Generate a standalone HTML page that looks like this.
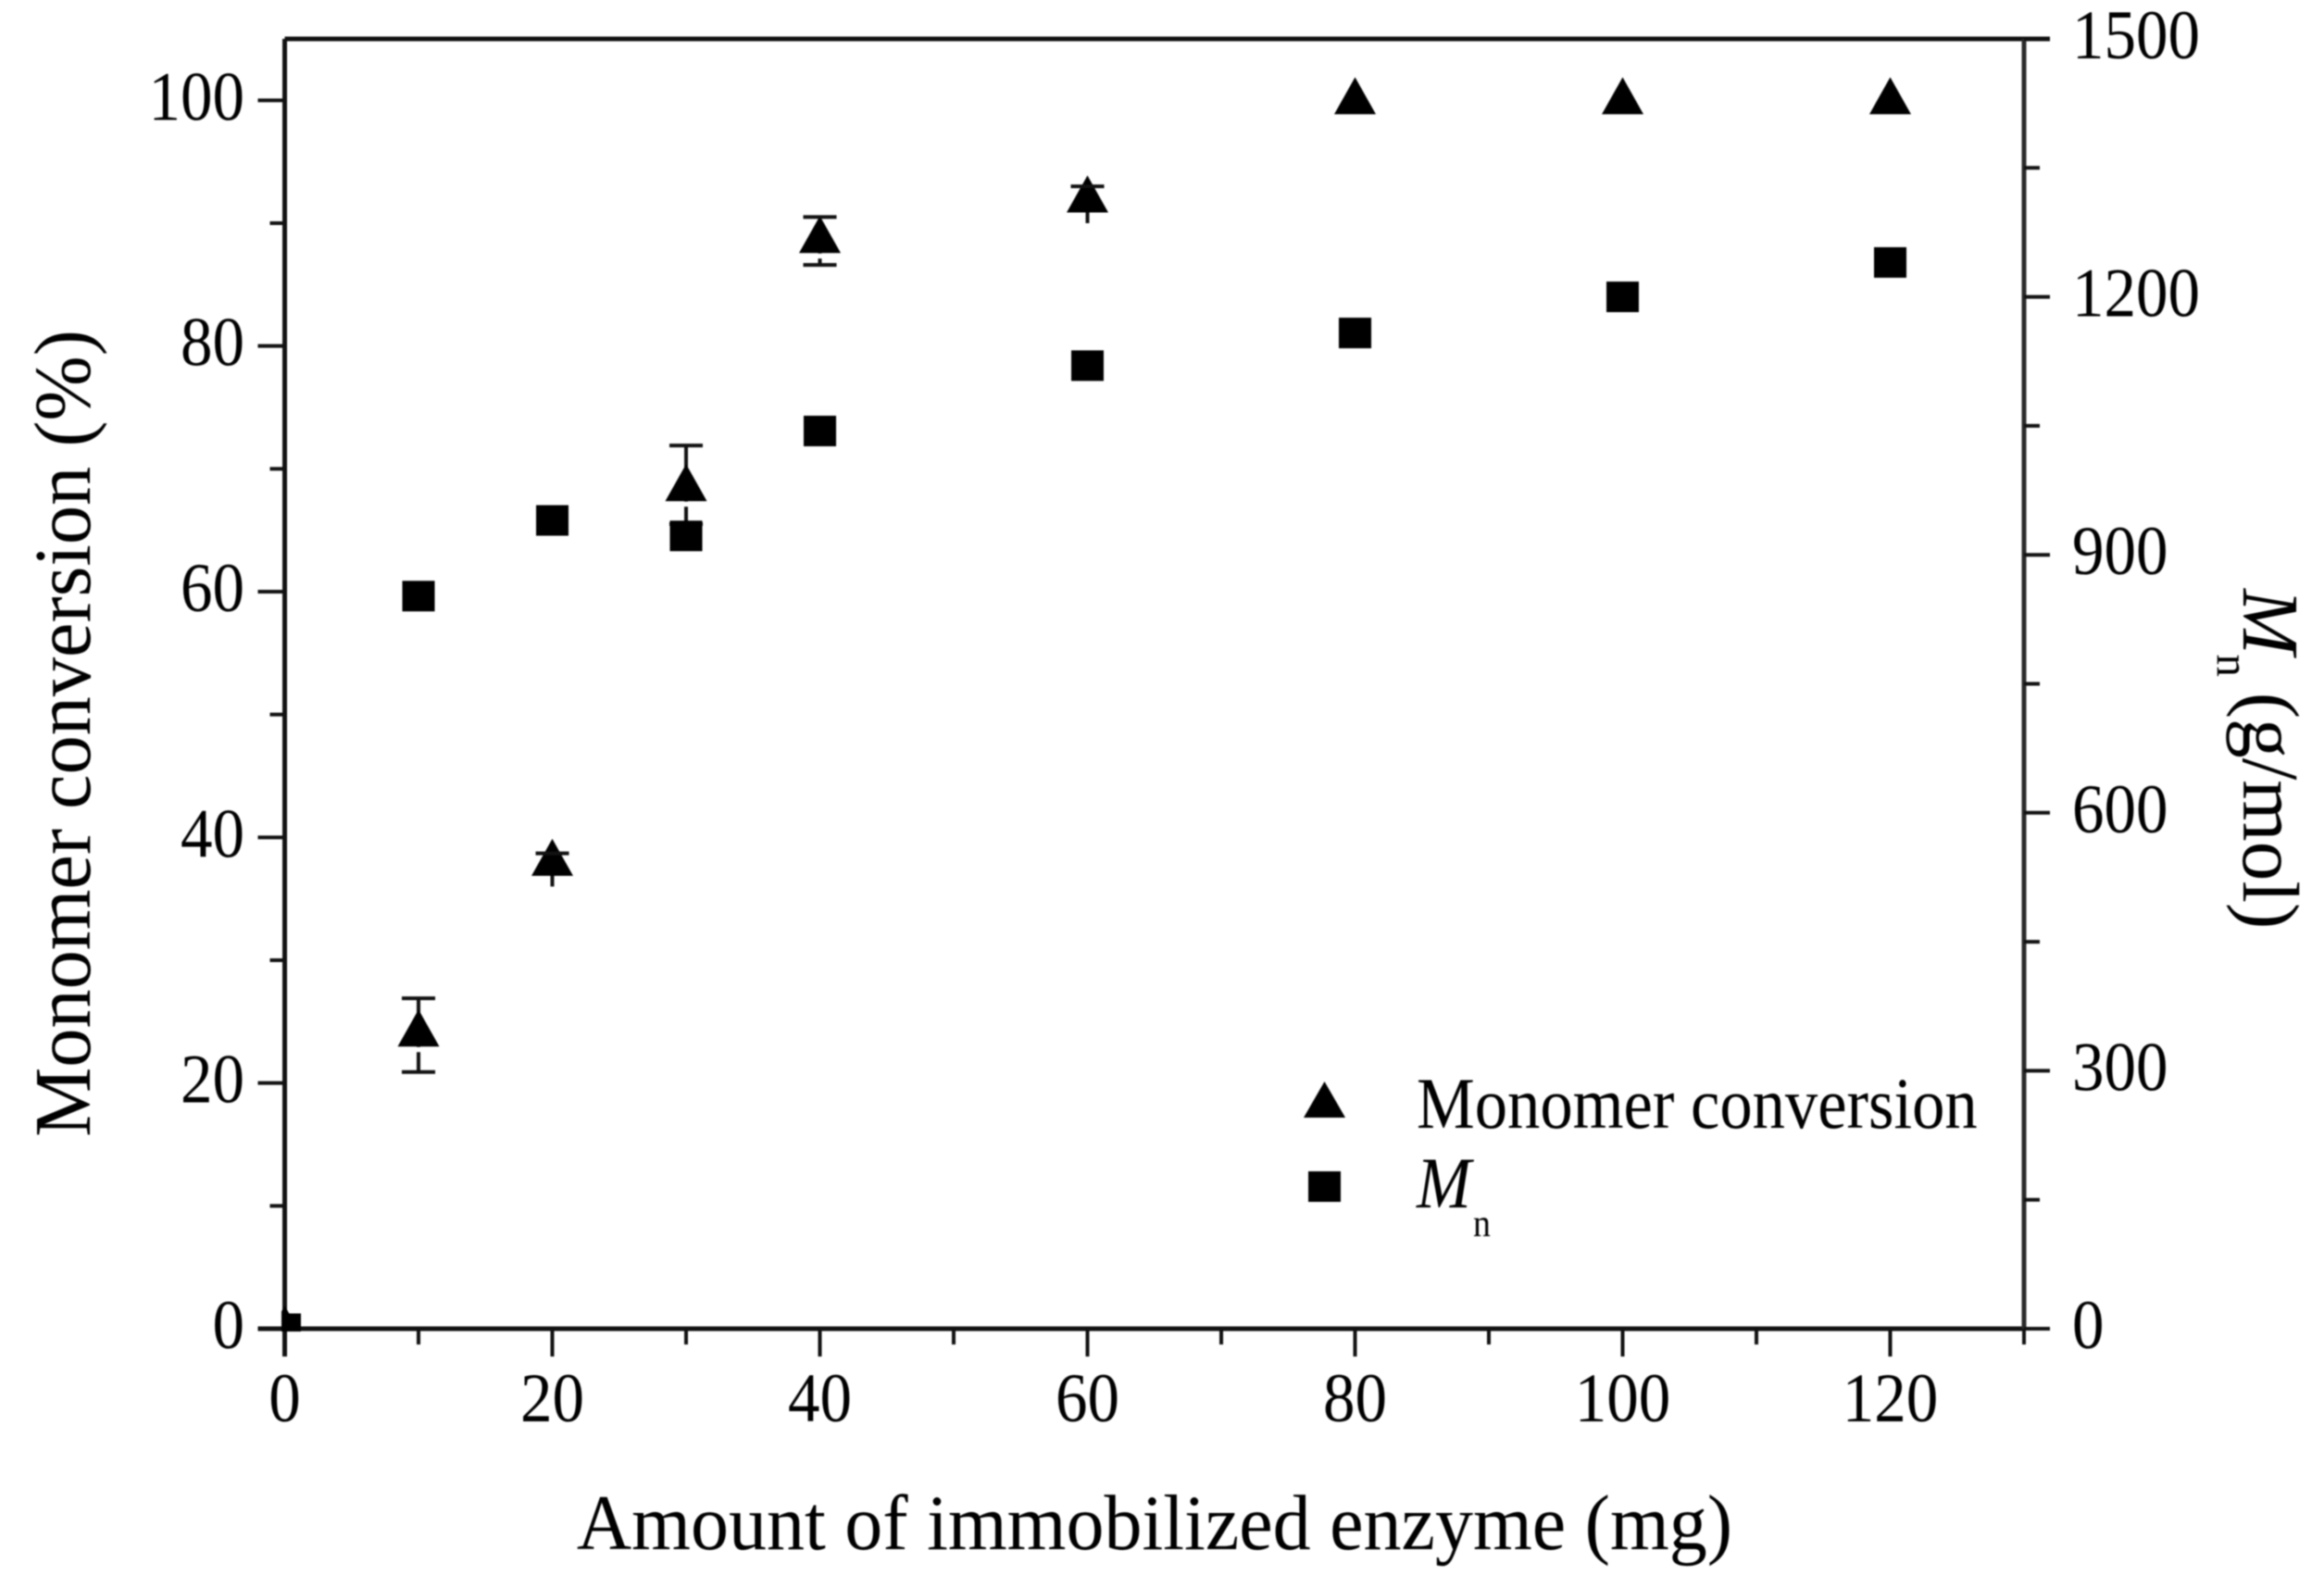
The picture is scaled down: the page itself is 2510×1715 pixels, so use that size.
<!DOCTYPE html>
<html lang="en">
<head>
<meta charset="utf-8">
<title>Monomer conversion and Mn vs amount of immobilized enzyme</title>
<style>
html,body{margin:0;padding:0;background:#fff;}
body{width:2510px;height:1715px;overflow:hidden;}
svg{display:block;filter:blur(0.8px);}
text{font-family:"Liberation Serif",serif;fill:#000;}
</style>
</head>
<body>
<svg id="chart" xmlns="http://www.w3.org/2000/svg" width="2510" height="1715" viewBox="0 0 2510 1715">
  <rect x="0" y="0" width="2510" height="1715" fill="#fff"/>
  <defs>
    <clipPath id="plot-clip"><rect x="304" y="30" width="1890" height="1408"/></clipPath>
  </defs>
  <text transform="translate(1247,1673) scale(.965,1)" font-size="85" text-anchor="middle">Amount of immobilized enzyme (mg)</text>
  <text transform="translate(97,792) rotate(-90) scale(.97,1)" font-size="87" text-anchor="middle">Monomer conversion (%)</text>
  <g transform="translate(2423,636) rotate(90) scale(.98,1)">
    <text x="0" y="0" font-size="87" font-style="italic">M</text>
    <text x="72" y="28" font-size="50">n</text>
    <text x="114" y="0" font-size="87">(g/mol)</text>
  </g>
  <g id="axes"></g>
  <g id="marks" clip-path="url(#plot-clip)"></g>
  <g>
    <g>
      <polygon points="1408,1207 1453,1207 1430.5,1168" fill="#000"/>
      <text transform="translate(1530,1218) scale(.905,1)" font-size="78">Monomer conversion</text>
    </g>
    <g>
      <rect x="1413" y="1265" width="35" height="33" fill="#000"/>
      <text transform="translate(1530,1304) scale(.905,1)" font-size="78" font-style="italic">M</text>
      <text transform="translate(1591,1335) scale(.9,1)" font-size="42">n</text>
    </g>
  </g>
</svg>
<script>
var amounts = [0, 10, 20, 30, 40, 60, 80, 100, 120];
var conversion = [0, 24.1, 38, 68.5, 88.7, 92, 100, 100, 100];
var conversionHigh = [0, 26.9, 38.7, 71.9, 90.5, 93, 100, 100, 100];
var conversionLow = [0, 20.9, 36, 65.5, 86.6, 90, 100, 100, 100];
var lowerCapVisible = [false, true, false, true, true, false, false, false, false];
var mn = [0, 852, 940, 922, 1044, 1120, 1158, 1200, 1240];
var xTickLabels = [0, 20, 40, 60, 80, 100, 120];
var xMinorTicks = [10, 30, 50, 70, 90, 110, 130];
var leftTickLabels = [0, 20, 40, 60, 80, 100];
var leftMinorTicks = [10, 30, 50, 70, 90];
var rightTickLabels = [0, 300, 600, 900, 1200, 1500];
var rightMinorTicks = [150, 450, 750, 1050, 1350];

var NS = 'http://www.w3.org/2000/svg';
var PLOT_L = 307.5, PLOT_R = 2186, PLOT_T = 42, PLOT_B = 1435;
function xScale(v) { return PLOT_L + (PLOT_R - PLOT_L) * v / 130; }
function leftScale(v) { return PLOT_B - (PLOT_B - PLOT_T) * v / 105; }
function rightScale(v) { return PLOT_B - (PLOT_B - PLOT_T) * v / 1500; }

var axesGroup = document.getElementById('axes');
var marksGroup = document.getElementById('marks');

function makeLine(parent, x1, y1, x2, y2, w, color) {
  var l = document.createElementNS(NS, 'line');
  l.setAttribute('x1', x1);
  l.setAttribute('y1', y1);
  l.setAttribute('x2', x2);
  l.setAttribute('y2', y2);
  l.setAttribute('stroke', color || '#111');
  l.setAttribute('stroke-width', w);
  parent.appendChild(l);
  return l;
}
function makeLabel(parent, x, y, anchor, str) {
  var t = document.createElementNS(NS, 'text');
  t.setAttribute('transform', 'translate(' + x + ',' + y + ') scale(.92,1)');
  t.setAttribute('font-size', '75');
  t.setAttribute('text-anchor', anchor);
  t.textContent = String(str);
  parent.appendChild(t);
  return t;
}

var el;
el = makeLine(axesGroup, PLOT_L, PLOT_T, PLOT_L, PLOT_B + 30, 5);


el = makeLine(axesGroup, PLOT_L - 29, PLOT_B, PLOT_R, PLOT_B, 5);


el = makeLine(axesGroup, PLOT_L, PLOT_T, PLOT_R + 28, PLOT_T, 5);


el = makeLine(axesGroup, PLOT_R, PLOT_T, PLOT_R, PLOT_B, 5, '#2a2a2a');



xTickLabels.forEach(function (v) {
  var x = xScale(v);
  var tick = makeLine(axesGroup, x, PLOT_B, x, PLOT_B + 30, 4);
  
  
  var lab = makeLabel(axesGroup, x, PLOT_B + 100, 'middle', v);
  
  
});
xMinorTicks.forEach(function (v) {
  var x = xScale(v);
  var tick = makeLine(axesGroup, x, PLOT_B, x, PLOT_B + 17, 4);
  
  
});
leftTickLabels.forEach(function (v) {
  var y = leftScale(v);
  var tick = makeLine(axesGroup, PLOT_L - 29, y, PLOT_L, y, 4);
  
  
  var lab = makeLabel(axesGroup, 264, y + 21, 'end', v);
  
  
});
leftMinorTicks.forEach(function (v) {
  var y = leftScale(v);
  var tick = makeLine(axesGroup, PLOT_L - 16, y, PLOT_L, y, 4);
  
  
});
rightTickLabels.forEach(function (v) {
  var y = rightScale(v);
  var tick = makeLine(axesGroup, PLOT_R, y, PLOT_R + 28, y, 4);
  
  
  var lab = makeLabel(axesGroup, 2238, y + 21, 'start', v);
  
  
});
rightMinorTicks.forEach(function (v) {
  var y = rightScale(v);
  var tick = makeLine(axesGroup, PLOT_R, y, PLOT_R + 17, y, 4);
  
  
});

amounts.forEach(function (a, i) {
  var x = xScale(a);
  var y = leftScale(conversion[i]);
  var hasError = conversionHigh[i] !== conversionLow[i];
  var hi = leftScale(conversionHigh[i]);
  var lo = leftScale(conversionLow[i]);
  if (hasError) {
    var bar = makeLine(marksGroup, x, hi, x, lo, 4);
    
    
  }
  var tri = document.createElementNS(NS, 'polygon');
  tri.setAttribute('points', (x - 22.5) + ',' + (y + 15) + ' ' + (x + 22.5) + ',' + (y + 15) + ' ' + x + ',' + (y - 25));
  tri.setAttribute('fill', '#000');
  
  
  marksGroup.appendChild(tri);
  if (hasError) {
    var capTop = makeLine(marksGroup, x - 18, hi, x + 18, hi, 4);
    
    
    if (lowerCapVisible[i]) {
      var gap = makeLine(marksGroup, x, y + 15.5, x, y + 21, 6, '#fff');
      
      
      var capBottom = makeLine(marksGroup, x - 18, lo, x + 18, lo, 4);
      
      
    }
  }
});
amounts.forEach(function (a, i) {
  var x = xScale(a);
  var y = rightScale(mn[i]);
  var sq = document.createElementNS(NS, 'rect');
  sq.setAttribute('x', x - 17.5);
  sq.setAttribute('y', y - 16.5);
  sq.setAttribute('width', 35);
  sq.setAttribute('height', 33);
  sq.setAttribute('fill', '#000');
  
  
  marksGroup.appendChild(sq);
});
</script>
</body>
</html>
